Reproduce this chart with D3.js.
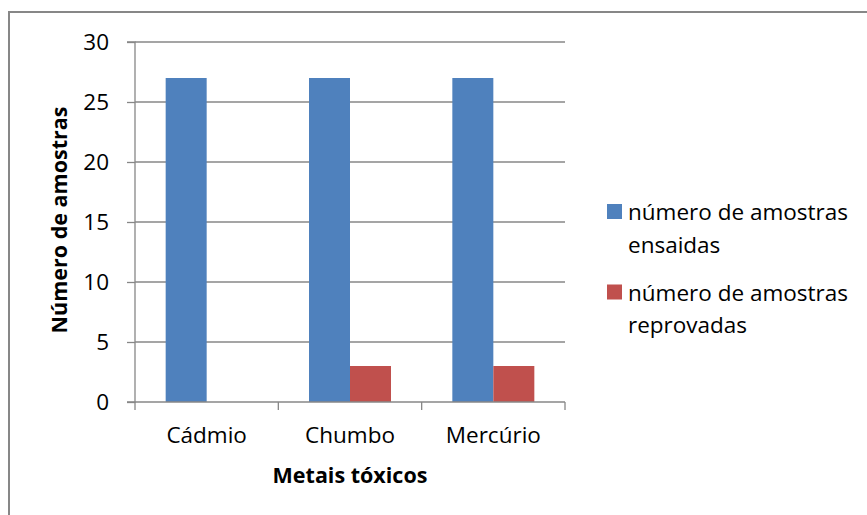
<!DOCTYPE html>
<html>
<head>
<meta charset="utf-8">
<script src="https://cdn.jsdelivr.net/npm/d3@7"></script>
<style>
  html, body { margin: 0; padding: 0; background: #fff; }
  svg { display: block; }
  text { font-family: "Open Sans", sans-serif; fill: #000; }
</style>
</head>
<body>
<svg id="chart" width="867" height="515"></svg>
<script>
const categories = ["Cádmio", "Chumbo", "Mercúrio"];
const seriesNames = ["número de amostras ensaidas", "número de amostras reprovadas"];
const legendLines = [["número de amostras", "ensaidas"], ["número de amostras", "reprovadas"]];
const ensaidas = [27, 27, 27];
const reprovadas = [0, 3, 3];
const yTicks = [0, 5, 10, 15, 20, 25, 30];
const colors = ["#4F81BD", "#C0504D"];
const yTitle = "Número de amostras";
const xTitle = "Metais tóxicos";

(function () {
const svg = d3.select("#chart");
const gridColor = "#878787";

// outer border
svg.append("rect")
  .attr("x", 9).attr("y", 12)
  .attr("width", 900).attr("height", 600)
  .attr("fill", "none").attr("stroke", gridColor).attr("stroke-width", 2);

const pLeft = 135, pRight = 565, pTop = 42, pBottom = 402;

const x0 = d3.scaleBand().domain(categories).range([pLeft, pRight]).paddingInner(0).paddingOuter(0);
const x1 = d3.scaleBand().domain(seriesNames).range([0, x0.bandwidth()]).paddingInner(0).paddingOuter(0.748);
const y = d3.scaleLinear().domain([0, 30]).range([pBottom, pTop]);

// gridlines
svg.append("g").selectAll("line").data(yTicks.filter(d => d !== 0)).join("line")
  .attr("x1", pLeft).attr("x2", pRight)
  .attr("y1", d => y(d)).attr("y2", d => y(d))
  .attr("stroke", gridColor).attr("stroke-width", 1.3);

// bars
const data = categories.map((c, i) => ({ cat: c, vals: [ensaidas[i], reprovadas[i]] }));
const groups = svg.append("g").selectAll("g").data(data).join("g")
  .attr("transform", d => `translate(${x0(d.cat)},0)`);
groups.selectAll("rect").data(d => d.vals.map((v, j) => ({ v, j })).filter(e => e.v > 0)).join("rect")
  .attr("x", e => x1(seriesNames[e.j]))
  .attr("width", x1.bandwidth())
  .attr("y", e => y(e.v))
  .attr("height", e => y(0) - y(e.v))
  .attr("fill", e => colors[e.j]);

// y axis
const yAxis = d3.axisLeft(y).tickValues(yTicks).tickSize(8).tickPadding(18).tickFormat(d3.format("d"));
const gy = svg.append("g").attr("transform", `translate(${pLeft},0)`).call(yAxis);
gy.select(".domain").attr("stroke", gridColor).attr("stroke-width", 1.3).attr("d", `M-8,${pTop}H0V${pBottom}H-8`);
gy.selectAll(".tick line").attr("stroke", gridColor).attr("stroke-width", 1.3);
gy.selectAll(".tick text").attr("font-family", "Open Sans").attr("font-size", 22.5).attr("fill", "#000");

// x axis
const gx = svg.append("g").attr("transform", `translate(0,${pBottom})`);
gx.append("line").attr("x1", pLeft).attr("x2", pRight).attr("y1", 0).attr("y2", 0)
  .attr("stroke", gridColor).attr("stroke-width", 1.3);
const boundaries = categories.map(c => x0(c)).concat([x0(categories[categories.length - 1]) + x0.bandwidth()]);
gx.selectAll("line.tk").data(boundaries).join("line").attr("class", "tk")
  .attr("x1", d => d).attr("x2", d => d).attr("y1", 0).attr("y2", 8)
  .attr("stroke", gridColor).attr("stroke-width", 1.3);
gx.selectAll("text").data(categories).join("text")
  .attr("x", d => x0(d) + x0.bandwidth() / 2).attr("y", 41)
  .attr("text-anchor", "middle").attr("font-size", 22.5).text(d => d);

// axis titles
svg.append("text").attr("x", (pLeft + pRight) / 2).attr("y", 483)
  .attr("text-anchor", "middle").attr("font-size", 21.5).attr("font-weight", "bold").text(xTitle);
svg.append("text").attr("transform", `translate(67,${(pTop + pBottom) / 2 - 2}) rotate(-90)`)
  .attr("text-anchor", "middle").attr("font-size", 21.5).attr("font-weight", "bold").text(yTitle);

// legend
const legendY = [211.5, 292];
const lg = svg.append("g").selectAll("g").data(seriesNames).join("g")
  .attr("transform", (d, i) => `translate(607,${legendY[i]})`);
lg.append("rect").attr("x", 0).attr("y", -7.5).attr("width", 15).attr("height", 15)
  .attr("fill", (d, i) => colors[i]);
lg.each(function (d, i) {
  const t = d3.select(this).append("text").attr("x", 21).attr("y", 8.5).attr("font-size", 22.5);
  legendLines[i].forEach((ln, k) => {
    t.append("tspan").attr("x", 21).attr("dy", k === 0 ? 0 : 32.5).text(ln);
  });
});
})();
</script>
</body>
</html>
